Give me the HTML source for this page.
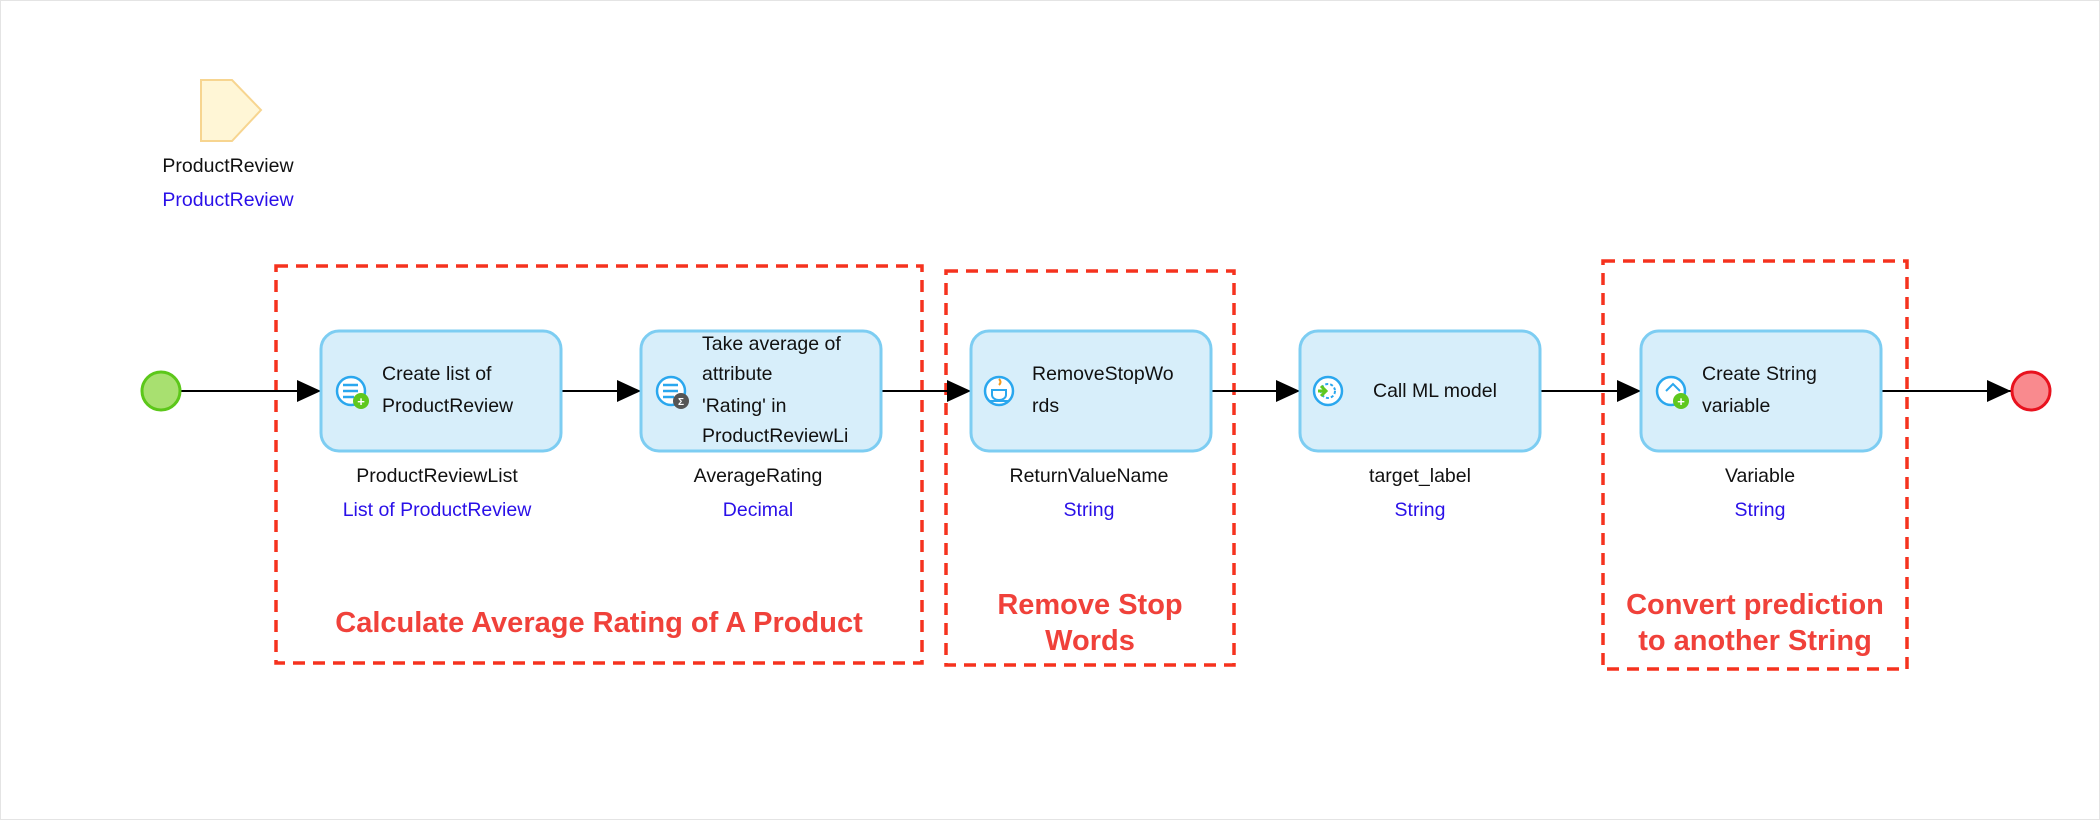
<!DOCTYPE html>
<html><head><meta charset="utf-8"><style>
html,body{margin:0;padding:0;background:#fff;}
svg{display:block;}
.t{font-family:"Liberation Sans",sans-serif;font-size:19.5px;fill:#111;}
.b{font-family:"Liberation Sans",sans-serif;font-size:19.5px;fill:#2a10e8;}
.r{font-family:"Liberation Sans",sans-serif;font-size:29px;font-weight:bold;fill:#f0413a;}
</style></head><body>
<svg width="2100" height="820" viewBox="0 0 2100 820" xmlns="http://www.w3.org/2000/svg">
<rect x="0.5" y="0.5" width="2099" height="819" fill="#fff" stroke="#e4e4e4"/>
<defs>
<marker id="ah" markerWidth="24" markerHeight="22" refX="24" refY="11" orient="auto" markerUnits="userSpaceOnUse">
<path d="M0,0 L24,11 L0,22 Z" fill="#000"/></marker>
</defs>
<path d="M201,80 L232,80 L261,110 L232,141 L201,141 Z" fill="#fff6d6" stroke="#f7d590" stroke-width="2"/>
<text class="t" x="228" y="172" text-anchor="middle">ProductReview</text>
<text class="b" x="228" y="206" text-anchor="middle">ProductReview</text>

<g fill="none" stroke="#f5321e" stroke-width="3.5" stroke-dasharray="12,8">
<rect x="276" y="266" width="646" height="397"/>
<rect x="946" y="271" width="288" height="394"/>
<rect x="1603" y="261" width="304" height="408"/>
</g>

<g stroke="#000" stroke-width="2" marker-end="url(#ah)">
<line x1="181" y1="391" x2="321" y2="391"/>
<line x1="561" y1="391" x2="641" y2="391"/>
<line x1="881" y1="391" x2="971" y2="391"/>
<line x1="1211" y1="391" x2="1300" y2="391"/>
<line x1="1541" y1="391" x2="1641" y2="391"/>
<line x1="1881" y1="391" x2="2011" y2="391"/>
</g>
<circle cx="161" cy="391" r="19" fill="#a8e070" stroke="#5cc71a" stroke-width="3"/>
<circle cx="2031" cy="391" r="19" fill="#f98a8e" stroke="#e8121e" stroke-width="3"/>

<g fill="#d7eefa" stroke="#7dcdf2" stroke-width="3">
<rect x="321" y="331" width="240" height="120" rx="18"/>
<rect x="641" y="331" width="240" height="120" rx="18"/>
<rect x="971" y="331" width="240" height="120" rx="18"/>
<rect x="1300" y="331" width="240" height="120" rx="18"/>
<rect x="1641" y="331" width="240" height="120" rx="18"/>
</g>
<g fill="#fff" stroke="#2aa7ee" stroke-width="2.5">
<circle cx="351" cy="391" r="14"/><circle cx="671" cy="391" r="14"/>
<circle cx="999" cy="391" r="14"/><circle cx="1328" cy="391" r="14"/>
<circle cx="1671" cy="391" r="14"/>
</g>
<g stroke="#2aa7ee" stroke-width="2.5">
<line x1="343" y1="385" x2="358" y2="385"/><line x1="343" y1="391" x2="358" y2="391"/><line x1="343" y1="397" x2="354" y2="397"/>
<line x1="663" y1="385" x2="678" y2="385"/><line x1="663" y1="391" x2="678" y2="391"/><line x1="663" y1="397" x2="674" y2="397"/>
</g>
<circle cx="361" cy="401" r="8" fill="#5fc81e"/><text x="361" y="406" font-family="Liberation Sans" font-size="13" font-weight="bold" fill="#fff" text-anchor="middle">+</text>
<circle cx="681" cy="401" r="8" fill="#555"/><text x="681" y="405" font-family="Liberation Sans" font-size="10" font-weight="bold" fill="#fff" text-anchor="middle">Σ</text>
<circle cx="1681" cy="401" r="8" fill="#5fc81e"/><text x="1681" y="406" font-family="Liberation Sans" font-size="13" font-weight="bold" fill="#fff" text-anchor="middle">+</text>
<path d="M992,390 h14 v5 a7,5 0 0 1 -14,0 Z M990,401 h18" fill="none" stroke="#2aa7ee" stroke-width="2"/>
<path d="M999,379 q3,3 0,6" fill="none" stroke="#f29a1e" stroke-width="2"/>
<circle cx="1328" cy="391" r="7" fill="none" stroke="#2aa7ee" stroke-width="2" stroke-dasharray="3,2"/>
<path d="M1318,391 h8 M1321,386 l5,5 l-5,5" stroke="#5fc81e" stroke-width="3" fill="none"/>
<path d="M1666,391 l7,-7 l7,7" fill="none" stroke="#2aa7ee" stroke-width="2"/>

<text class="t" x="382" y="380">Create list of</text>
<text class="t" x="382" y="412">ProductReview</text>
<text class="t" x="702" y="350">Take average of</text>
<text class="t" x="702" y="380">attribute</text>
<text class="t" x="702" y="412">'Rating' in</text>
<text class="t" x="702" y="442">ProductReviewLi</text>
<text class="t" x="1032" y="380">RemoveStopWo</text>
<text class="t" x="1032" y="412">rds</text>
<text class="t" x="1373" y="397">Call ML model</text>
<text class="t" x="1702" y="380">Create String</text>
<text class="t" x="1702" y="412">variable</text>

<text class="t" x="437" y="482" text-anchor="middle">ProductReviewList</text>
<text class="b" x="437" y="516" text-anchor="middle">List of ProductReview</text>
<text class="t" x="758" y="482" text-anchor="middle">AverageRating</text>
<text class="b" x="758" y="516" text-anchor="middle">Decimal</text>
<text class="t" x="1089" y="482" text-anchor="middle">ReturnValueName</text>
<text class="b" x="1089" y="516" text-anchor="middle">String</text>
<text class="t" x="1420" y="482" text-anchor="middle">target_label</text>
<text class="b" x="1420" y="516" text-anchor="middle">String</text>
<text class="t" x="1760" y="482" text-anchor="middle">Variable</text>
<text class="b" x="1760" y="516" text-anchor="middle">String</text>

<text class="r" x="599" y="632" text-anchor="middle">Calculate Average Rating of A Product</text>
<text class="r" x="1090" y="614" text-anchor="middle">Remove Stop</text>
<text class="r" x="1090" y="650" text-anchor="middle">Words</text>
<text class="r" x="1755" y="614" text-anchor="middle">Convert prediction</text>
<text class="r" x="1755" y="650" text-anchor="middle">to another String</text>
</svg>
</body></html>
